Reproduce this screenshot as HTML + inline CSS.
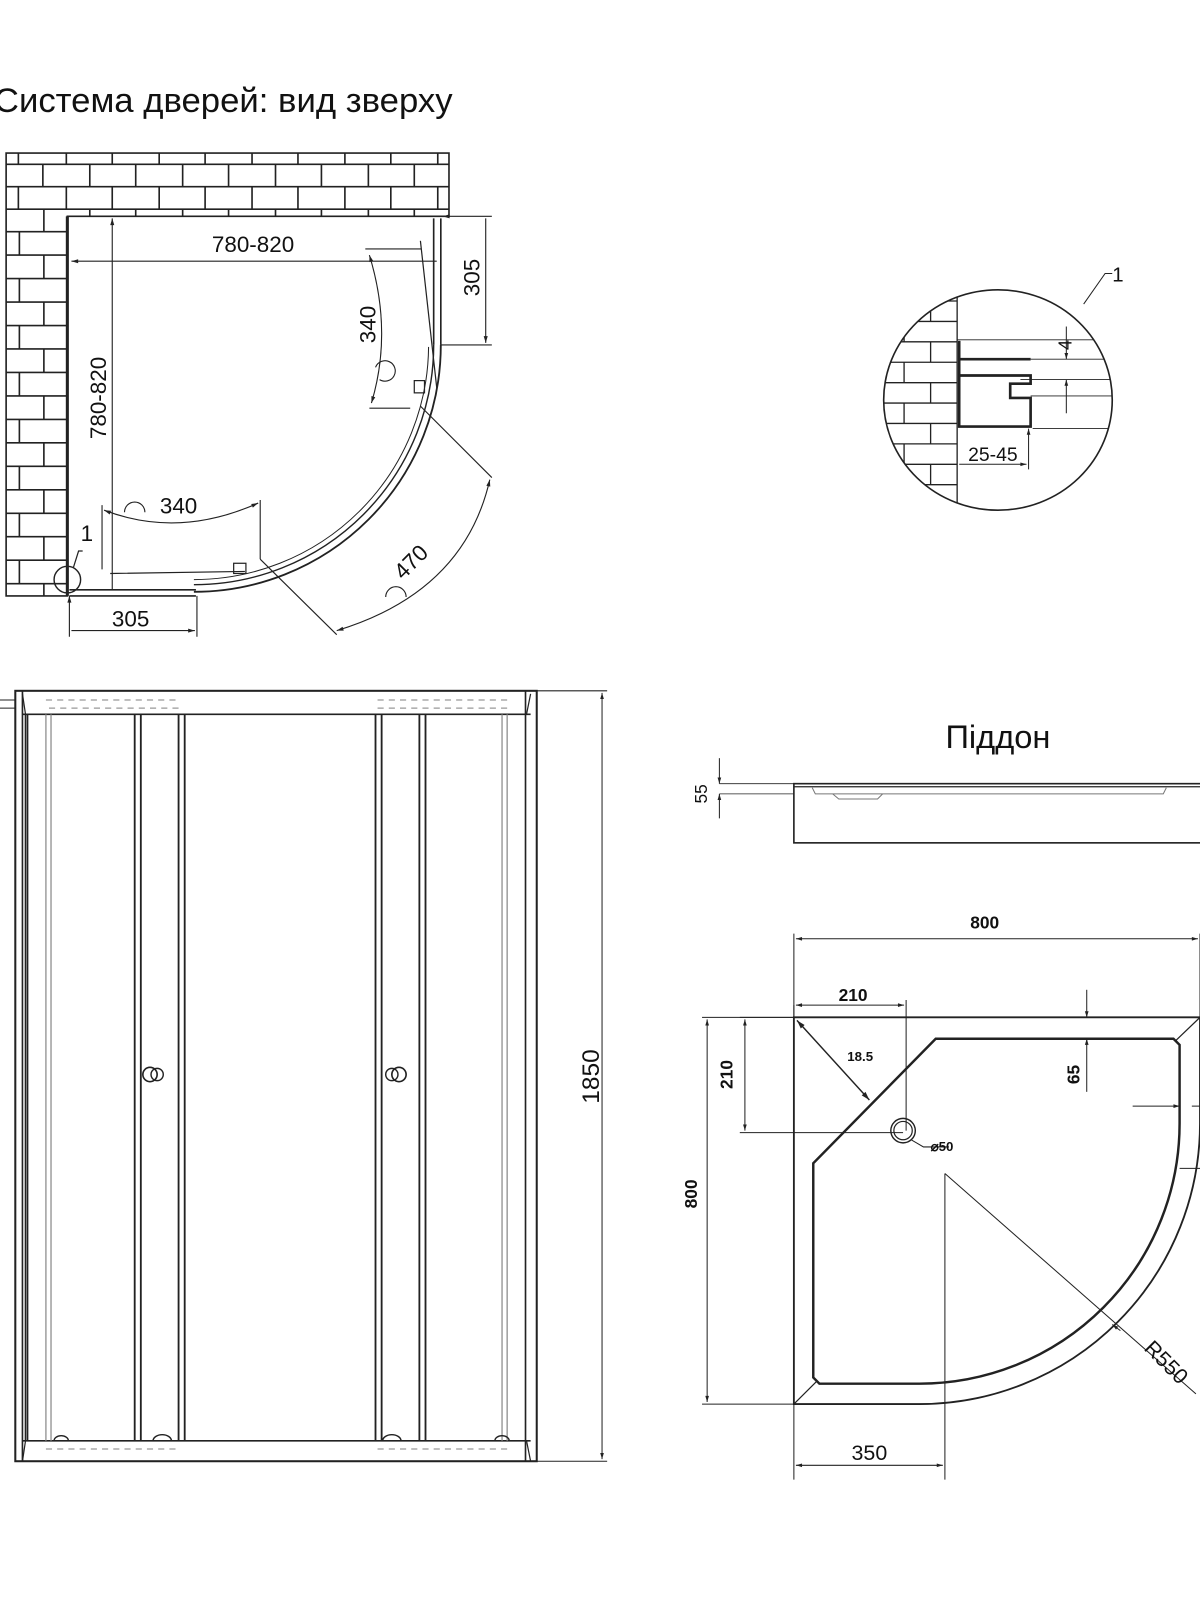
<!DOCTYPE html>
<html><head><meta charset="utf-8"><style>
html,body{margin:0;padding:0;background:#fff;width:1200px;height:1600px;overflow:hidden}
svg{display:block}
text{font-family:"Liberation Sans",sans-serif;fill:#111}
</style></head><body>
<svg width="1200" height="1600" viewBox="0 0 1176 1568" xmlns="http://www.w3.org/2000/svg">
<defs>
<marker id="a" viewBox="0 0 10 10" refX="10" refY="5" markerWidth="8" markerHeight="6" orient="auto-start-reverse"><path d="M0,2 L10,5 L0,8 z" fill="#222"/></marker>
<clipPath id="dc"><ellipse cx="978" cy="392" rx="112" ry="108"/></clipPath>
</defs>
<text x="-6" y="110" font-size="34">Система дверей: вид зверху</text>

<!-- wall -->
<g stroke="#222" stroke-width="1.6" fill="none">
<path d="M6,150 H440 V212 H66 V584 H6 Z" fill="#fff"/>
<path d="M6,161 H440 M6,183 H440 M6,205 H440"/>
<path d="M18,150V161 M65,150V161 M110,150V161 M156,150V161 M201,150V161 M247,150V161 M292,150V161 M338,150V161 M383,150V161 M429,150V161"/>
<path d="M42,161V183 M88,161V183 M133,161V183 M179,161V183 M224,161V183 M270,161V183 M315,161V183 M361,161V183 M406,161V183"/>
<path d="M18,183V205 M65,183V205 M110,183V205 M156,183V205 M201,183V205 M247,183V205 M292,183V205 M338,183V205 M383,183V205 M429,183V205"/>
<path d="M88,205V212 M133,205V212 M179,205V212 M224,205V212 M270,205V212 M315,205V212 M361,205V212 M406,205V212"/>
<path d="M6,227H66 M6,250H66 M6,273H66 M6,296H66 M6,319H66 M6,342H66 M6,365H66 M6,388H66 M6,411H66 M6,434H66 M6,457H66 M6,480H66 M6,503H66 M6,526H66 M6,549H66 M6,572H66"/>
<path d="M43,205V227 M19,227V250 M43,250V273 M19,273V296 M43,296V319 M19,319V342 M43,342V365 M19,365V388 M43,388V411 M19,411V434 M43,434V457 M19,457V480 M43,480V503 M19,503V526 M43,526V549 M19,549V572 M43,572V584"/>
</g>

<!-- enclosure -->
<g stroke="#222" fill="none">
<path d="M66,212V584" stroke-width="3"/>
<path d="M425,214V338 M432,214V338" stroke-width="1.6"/>
<path d="M68,584H192 M68,578H192" stroke-width="1.6"/>
<path d="M432,338 A242,242 0 0 1 190,580" stroke-width="1.8"/>
<path d="M425,338 A235,235 0 0 1 190,573" stroke-width="1.4"/>
<path d="M420,340 A230,230 0 0 1 190,568" stroke-width="1"/>
<path d="M412,236 L428,380 M108,562 L240,560" stroke-width="1.2"/>
<rect x="406" y="373" width="10" height="12" stroke-width="1.2"/>
<rect x="229" y="552" width="12" height="10" stroke-width="1.2"/>
<circle cx="66" cy="568" r="13" stroke-width="1.4"/>
<path d="M72,556 L77,540 L81,540" stroke-width="1.2"/>
</g>
<text x="79" y="530" font-size="22">1</text>

<!-- top view dimensions -->
<g stroke="#222" stroke-width="1.1" fill="none">
<path d="M70,256H428" marker-start="url(#a)"/>
<path d="M110,214V578" marker-start="url(#a)"/>
<path d="M434,212H482 M432,338H482 M476,214V336" marker-start="url(#a)" marker-end="url(#a)"/>
<path d="M68,584V624 M193,584V624 M70,618H191" marker-start="url(#a)" marker-end="url(#a)"/>
<path d="M413,244 H358 M402,400 H362"/>
<path d="M362,250 Q385,325 364,395" marker-start="url(#a)" marker-end="url(#a)"/>
<path d="M100,558V495 M255,548V490"/>
<path d="M102,500 Q175,528 253,493" marker-start="url(#a)" marker-end="url(#a)"/>
<path d="M412,398 L482,468 M255,548 L330,622"/>
<path d="M480,470 Q455,580 330,618" marker-start="url(#a)" marker-end="url(#a)"/>
<path d="M368,360 A10,10 0 1 1 372,372 M122,502 A10,10 0 0 1 142,502 M378,585 A10,10 0 0 1 398,585"/>
</g>
<text x="248" y="247" font-size="22" text-anchor="middle">780-820</text>
<text transform="translate(104,390) rotate(-90)" font-size="22" text-anchor="middle">780-820</text>
<text transform="translate(470,272) rotate(-90)" font-size="22" text-anchor="middle">305</text>
<text transform="translate(368,318) rotate(-90)" font-size="22" text-anchor="middle">340</text>
<text x="175" y="503" font-size="22" text-anchor="middle">340</text>
<text x="128" y="614" font-size="22" text-anchor="middle">305</text>
<text transform="translate(408,556) rotate(-45)" font-size="22" text-anchor="middle">470</text>

<!-- detail circle -->
<g clip-path="url(#dc)" stroke="#222" stroke-width="1.3" fill="none">
<path d="M938,270V510"/>
<path d="M860,295H938 M860,315H938 M860,335H938 M860,355H938 M860,375H938 M860,395H938 M860,415H938 M860,435H938 M860,455H938 M860,475H938 M860,495H938"/>
<path d="M912,295V315 M886,315V335 M912,335V355 M886,355V375 M912,375V395 M886,395V415 M912,415V435 M886,435V455 M912,455V475 M886,475V495"/>
<path d="M938,333H1100 M1010,352H1100 M1000,372H1100 M1010,388H1100 M1012,420H1100" stroke-width="0.8"/>
</g>
<ellipse cx="978" cy="392" rx="112" ry="108" stroke="#222" stroke-width="1.6" fill="none"/>
<path d="M940,334V418H1010V390H990V376H1010V368H940 M940,352H1010" stroke="#222" stroke-width="2.6" fill="none"/>
<g stroke="#222" stroke-width="1" fill="none">
<path d="M1045,320V352" marker-end="url(#a)"/>
<path d="M1045,405V372" marker-end="url(#a)"/>
<path d="M1008,420V460 M940,455H1006" marker-start="url(#a)" marker-end="url(#a)"/>
<path d="M1062,298 L1083,268 L1090,268"/>
</g>
<text transform="translate(1050,338) rotate(-90)" font-size="18" text-anchor="middle">4</text>
<text x="973" y="452" font-size="19" text-anchor="middle">25-45</text>
<text x="1090" y="276" font-size="20">1</text>

<!-- front view -->
<g stroke="#222" fill="none">
<rect x="15" y="677" width="511" height="755" stroke-width="2"/>
<path d="M22,700H520 M22,1412H520" stroke-width="1.6"/>
<path d="M22,680L25,700 M520,680L516,700 M22,1432L25,1412 M520,1432L516,1412" stroke-width="1.2"/>
<path d="M22,677V1432 M515,677V1432 M25,700V1412 M27,700V1412" stroke-width="1.6"/>
<path d="M132,700V1412 M138,700V1412 M175,700V1412 M181,700V1412 M368,700V1412 M374,700V1412 M411,700V1412 M417,700V1412" stroke-width="1.8"/>
<path d="M45,700V1412 M50,700V1412 M492,700V1412 M497,700V1412" stroke="#888" stroke-width="1.2"/>
<path d="M45,686H175 M48,694H175 M370,686H500 M370,694H500 M45,1420H175 M370,1420H500" stroke="#999" stroke-width="1.2" stroke-dasharray="6,5"/>
<circle cx="147" cy="1053" r="7" stroke-width="1.6"/><circle cx="154" cy="1053" r="6" stroke-width="1.4"/>
<circle cx="391" cy="1053" r="7" stroke-width="1.6"/><circle cx="384" cy="1053" r="6" stroke-width="1.4"/>
<path d="M150,1412a9,6 0 0 1 18,0 M375,1412a9,6 0 0 1 18,0 M53,1412a7,5 0 0 1 14,0 M485,1412a7,5 0 0 1 14,0" stroke-width="1.4"/>
<path d="M0,686H15 M0,694H15" stroke-width="1"/>
<path d="M526,677H595 M526,1432H595"  stroke-width="1"/>
<path d="M590,679V1430" stroke-width="1" marker-start="url(#a)" marker-end="url(#a)"/>
</g>
<text transform="translate(587,1055) rotate(-90)" font-size="24" text-anchor="middle">1850</text>

<!-- tray side -->
<text x="978" y="733" font-size="32" text-anchor="middle">Піддон</text>
<g stroke="#222" fill="none">
<rect x="778" y="768" width="420" height="58" stroke-width="1.6"/>
<path d="M778,771H1176" stroke-width="1.2"/>
<path d="M796,772 L799,778 H1140 L1143,772 M816,778 L822,783 H860 L865,778" stroke="#777" stroke-width="1"/>
<path d="M705,768H778 M705,778H778" stroke-width="0.8"/>
<path d="M705,743V768" marker-end="url(#a)" stroke-width="1"/>
<path d="M705,802V778" marker-end="url(#a)" stroke-width="1"/>
</g>
<text transform="translate(693,778) rotate(-90)" font-size="17" text-anchor="middle">55</text>

<!-- tray top -->
<g stroke="#222" fill="none">
<path d="M778,997H1176 V1101 A275,275 0 0 1 901,1376 H778 Z" stroke-width="1.8"/>
<path d="M917,1018H1150 L1156,1024 V1101 A255,255 0 0 1 901,1356 H803 L797,1350 V1140 Z" stroke-width="2.4"/>
<path d="M1176,997L1152,1020 M778,1376L800,1354" stroke-width="1.2"/>
<circle cx="885" cy="1108" r="12" stroke-width="1.4"/><circle cx="885" cy="1108" r="9" stroke-width="1.2"/>
<path d="M893,1117 L905,1124 H930" stroke-width="1"/>
<g stroke-width="1">
<path d="M778,997V915 M1176,997V915"/>
<path d="M780,920H1174" marker-start="url(#a)" marker-end="url(#a)"/>
<path d="M888,980V1108 M778,985V997"/>
<path d="M780,985H886" marker-start="url(#a)" marker-end="url(#a)"/>
<path d="M725,997H778 M725,1110H885"/>
<path d="M730,999V1108" marker-start="url(#a)" marker-end="url(#a)"/>
<path d="M688,997H778 M688,1376H778"/>
<path d="M693,999V1374" marker-start="url(#a)" marker-end="url(#a)"/>
<path d="M781,1000 L852,1078" marker-start="url(#a)" marker-end="url(#a)" stroke-width="1.4"/>
<path d="M1065,970V997" marker-end="url(#a)"/>
<path d="M1065,1070V1018" marker-end="url(#a)"/>
<path d="M1110,1084H1156" marker-end="url(#a)"/>
<path d="M1176,1084H1168"/>
<path d="M1156,1145H1176"/>
<path d="M926,1150V1450 M778,1376V1450"/>
<path d="M780,1436H924" marker-start="url(#a)" marker-end="url(#a)"/>
<path d="M926,1150 L1172,1366"/>
<path d="M1098,1304 L1090,1298" marker-end="url(#a)"/>
</g>
</g>
<text x="965" y="910" font-size="17" font-weight="bold" text-anchor="middle">800</text>
<text x="836" y="981" font-size="17" font-weight="bold" text-anchor="middle">210</text>
<text x="843" y="1040" font-size="13" font-weight="bold" text-anchor="middle">18.5</text>
<text transform="translate(718,1053) rotate(-90)" font-size="17" font-weight="bold" text-anchor="middle">210</text>
<text transform="translate(683,1170) rotate(-90)" font-size="17" font-weight="bold" text-anchor="middle">800</text>
<text transform="translate(1058,1053) rotate(-90)" font-size="17" font-weight="bold" text-anchor="middle">65</text>
<text x="912" y="1128" font-size="13" font-weight="bold">⌀50</text>
<text x="852" y="1431" font-size="21" text-anchor="middle">350</text>
<text transform="translate(1138,1340) rotate(45)" font-size="21" text-anchor="middle">R550</text>
</svg>
</body></html>
